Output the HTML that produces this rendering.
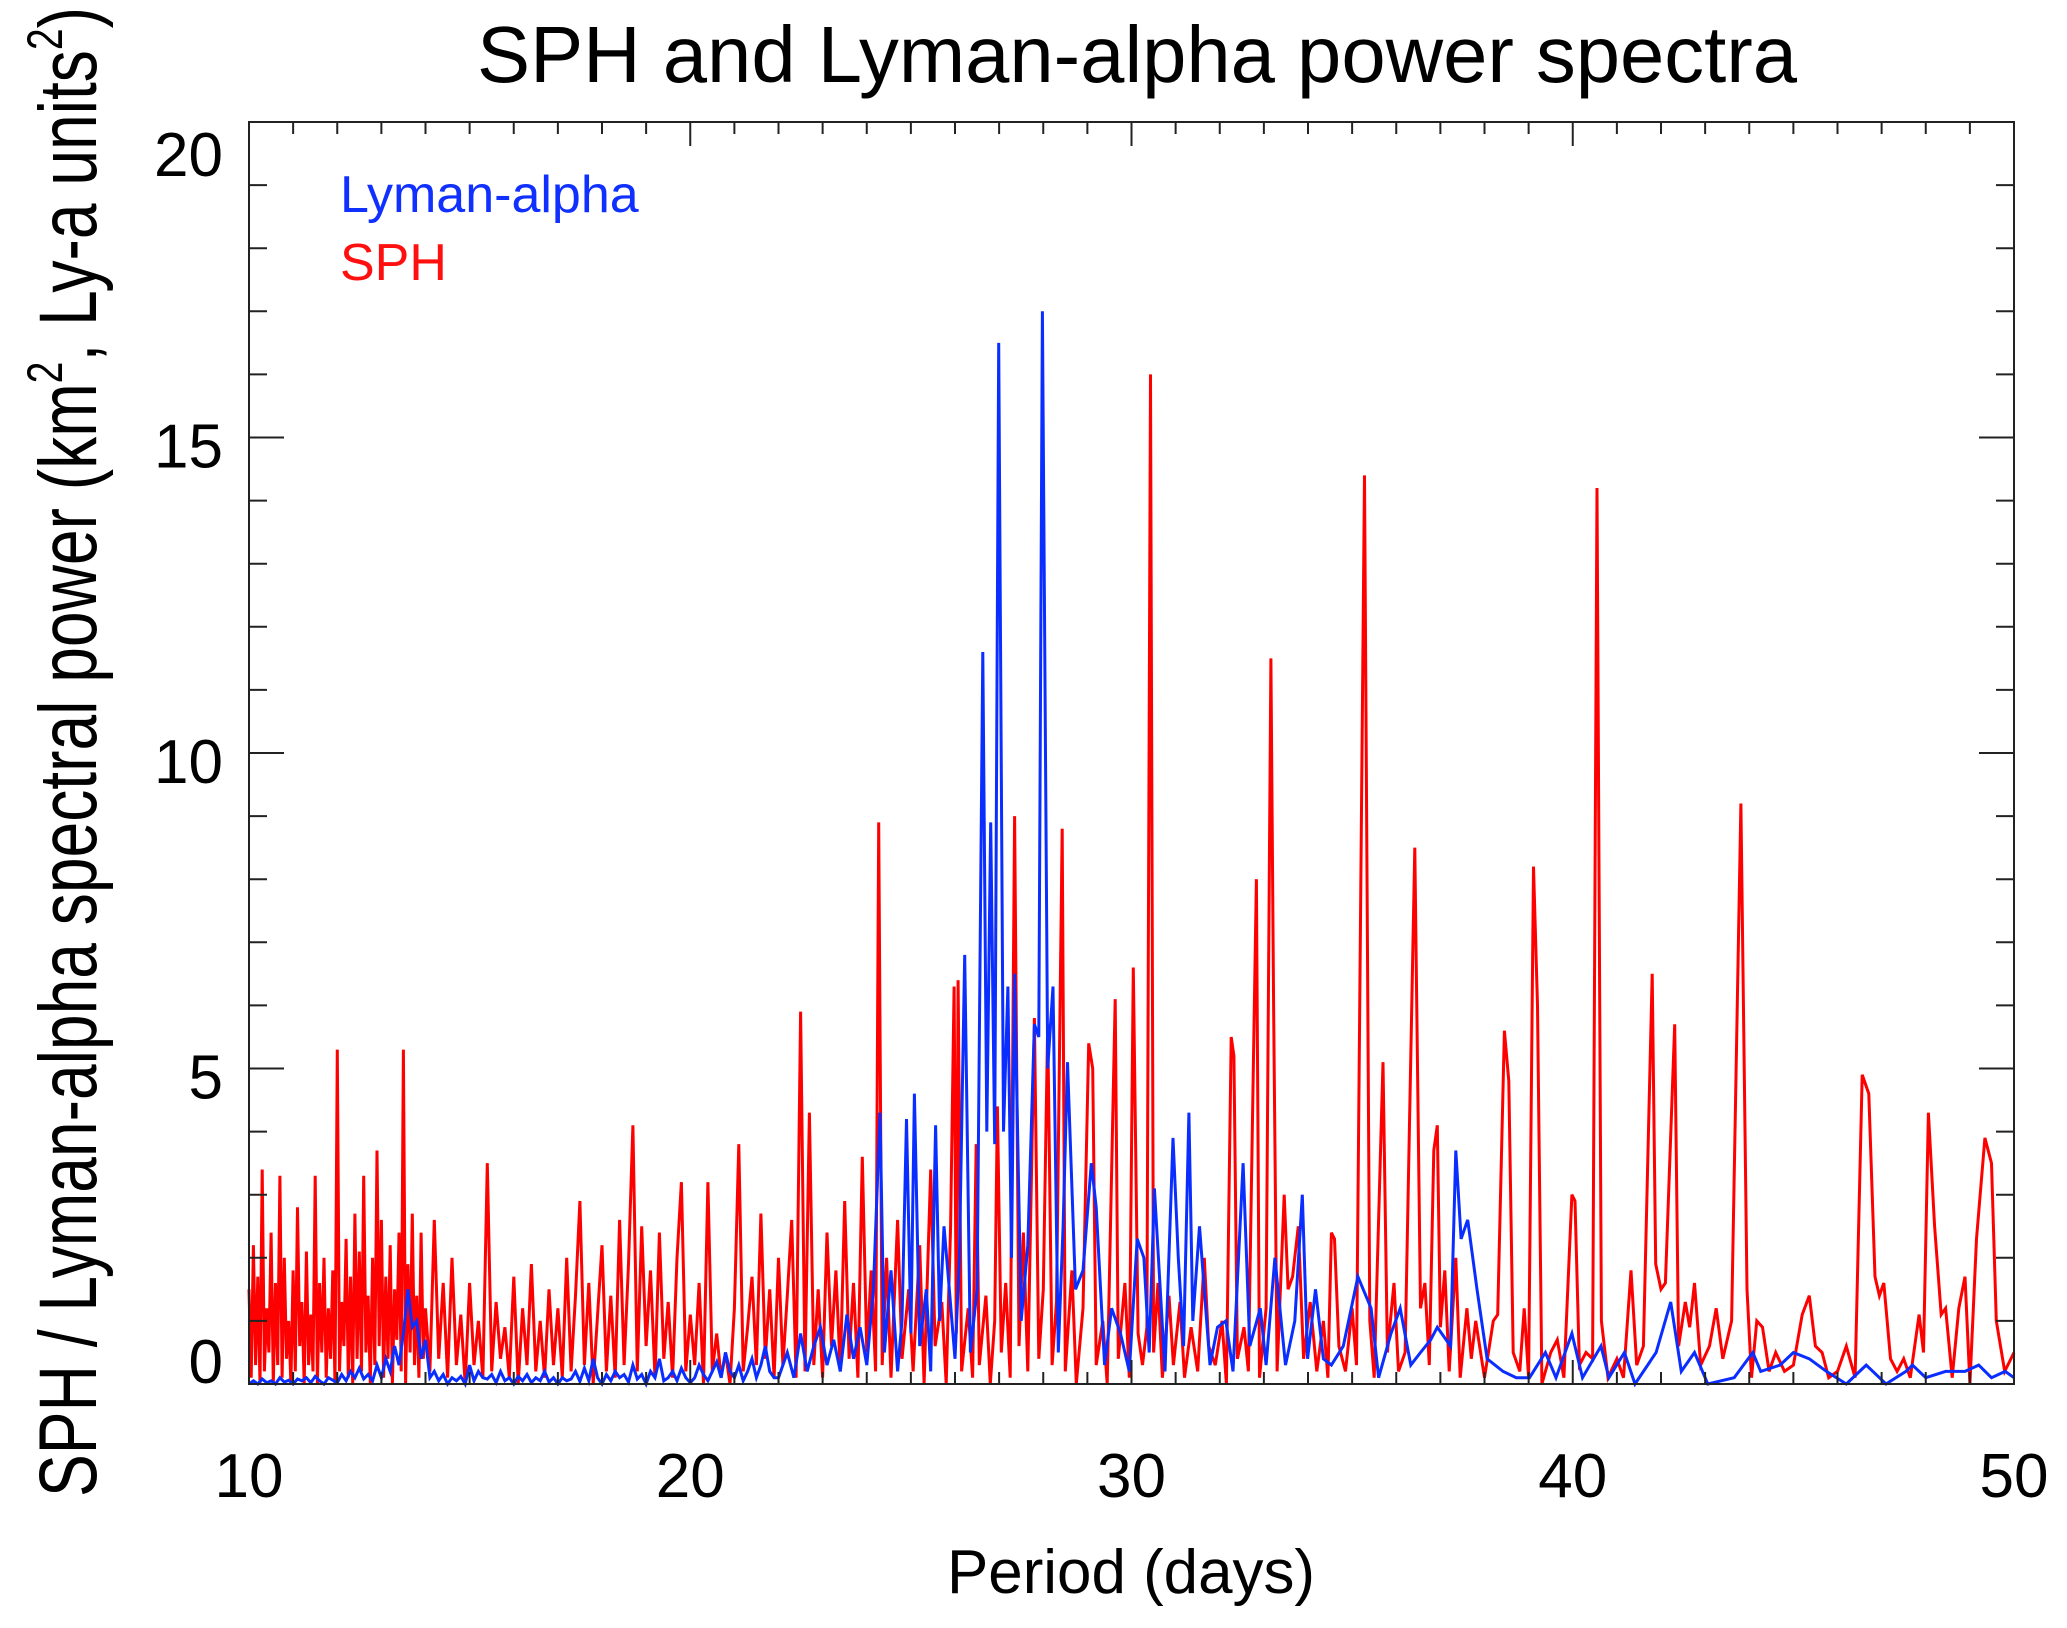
<!DOCTYPE html>
<html><head><meta charset="utf-8"><style>
html,body{margin:0;padding:0;background:#fff;}
svg{display:block;font-family:"Liberation Sans",Arial,sans-serif;}
</style></head><body>
<svg id="chart" width="2067" height="1628" viewBox="0 0 2067 1628" xmlns="http://www.w3.org/2000/svg">
<rect width="2067" height="1628" fill="#fff"/>
<text x="1137" y="82" font-size="80" text-anchor="middle" textLength="1320" lengthAdjust="spacingAndGlyphs" fill="#000">SPH and Lyman-alpha power spectra</text>
<text x="1131" y="1593" font-size="62" text-anchor="middle" textLength="368" lengthAdjust="spacingAndGlyphs" fill="#000">Period (days)</text>
<text transform="translate(96,1497) rotate(-90)" x="0" y="0" font-size="82" textLength="1490" lengthAdjust="spacingAndGlyphs" fill="#000">SPH / Lyman-alpha spectral power (km<tspan font-size="50" dy="-34">2</tspan><tspan dy="34">, Ly-a units</tspan><tspan font-size="50" dy="-34">2</tspan><tspan dy="34">)</tspan></text>
<text x="340" y="212" font-size="52" fill="#1030ff">Lyman-alpha</text>
<text x="340" y="280" font-size="52" fill="#ff1010">SPH</text>
<g id="series"></g>
<g id="axes"></g>
</svg>
<script>
const xTickLabels = [10, 20, 30, 40, 50];
const yTickLabels = [0, 5, 10, 15, 20];
// SPH dense segment: periods 10.00..13.95 step 0.05
const sphDenseA = [1.5,0.1,2.2,0.3,1.7,0.0,3.4,0.2,1.2,0.5,2.4,0.0,1.6,0.3,3.3,0.1,2.0,0.4,1.0,0.0,
1.8,0.2,2.8,0.6,1.3,0.0,2.1,0.3,1.1,0.2,3.3,0.0,1.6,0.5,2.0,0.1,1.2,0.4,1.8,0.0,
5.3,0.2,1.3,0.6,2.3,0.1,1.7,0.0,2.7,0.4,2.1,0.2,3.3,0.5,1.4,0.0,2.0,0.3,3.7,0.6,
2.6,0.1,1.7,0.4,2.2,0.0,1.5,0.7,2.4,0.2,5.3,0.0,1.9,0.5,2.7,0.3,1.4,0.1,2.4,0.4];
// SPH segment: periods 14.0..23.9 step 0.1
const sphDenseB = [1.2,0.2,2.6,0.4,1.6,0.1,2.0,0.3,1.1,0.0,
1.6,0.3,1.0,0.1,3.5,0.2,1.3,0.4,0.9,0.1,
1.7,0.0,1.2,0.3,1.9,0.2,1.0,0.1,1.5,0.3,
1.2,0.1,2.0,0.2,1.4,2.9,0.3,1.6,0.0,1.1,
2.2,0.2,1.4,0.1,2.6,0.3,1.9,4.1,0.2,2.5,
0.6,1.8,0.1,2.4,0.4,1.3,0.1,2.0,3.2,0.2,
1.1,0.3,1.6,0.0,3.2,0.2,0.8,0.1,0.5,0.0,
1.2,3.8,0.2,0.9,1.7,0.3,2.7,0.4,1.5,0.1,
2.0,0.3,1.4,2.6,0.1,5.9,0.2,4.3,0.3,1.5,
0.1,2.4,0.6,1.8,0.2,2.9,0.4,1.6,0.1,3.6];
const sphSparse = [[24.0,0.5],[24.1,1.8],[24.2,0.2],[24.27,8.9],[24.35,0.3],[24.45,2.0],[24.55,0.1],[24.7,2.6],[24.8,0.4],[24.95,1.5],[25.05,0.2],[25.2,2.2],[25.3,0.0],[25.45,3.4],[25.55,0.6],[25.7,1.3],[25.8,0.0],[25.9,2.5],[25.98,6.3],[26.03,0.8],[26.07,6.4],[26.15,0.2],[26.3,1.2],[26.4,0.1],[26.48,3.8],[26.55,0.3],[26.7,1.4],[26.8,0.0],[26.9,1.0],[26.96,4.4],[27.05,0.5],[27.15,1.6],[27.25,0.1],[27.35,9.0],[27.45,0.6],[27.55,2.4],[27.65,0.2],[27.8,5.8],[27.9,0.4],[28.0,1.5],[28.1,5.7],[28.2,0.3],[28.3,1.3],[28.43,8.8],[28.5,0.2],[28.65,1.8],[28.75,0.0],[28.9,1.2],[29.03,5.4],[29.12,5.0],[29.2,0.3],[29.35,1.0],[29.45,0.0],[29.63,6.1],[29.7,0.4],[29.85,1.6],[29.95,0.1],[30.04,6.6],[30.15,0.8],[30.25,0.3],[30.35,0.9],[30.43,16.0],[30.5,0.5],[30.6,1.6],[30.7,0.1],[30.85,1.4],[30.95,0.3],[31.1,1.3],[31.2,0.1],[31.35,0.9],[31.5,0.2],[31.65,2.0],[31.75,0.6],[31.9,0.3],[32.05,1.0],[32.15,0.0],[32.26,5.5],[32.32,5.2],[32.4,0.4],[32.55,0.9],[32.65,0.2],[32.83,8.0],[32.9,0.1],[33.05,1.2],[33.16,11.5],[33.22,6.0],[33.3,0.2],[33.46,3.0],[33.55,1.5],[33.65,1.7],[33.78,2.5],[33.9,0.4],[34.05,1.3],[34.2,0.2],[34.35,1.0],[34.45,0.1],[34.53,2.4],[34.6,2.3],[34.7,0.6],[34.85,0.2],[35.0,1.2],[35.1,0.3],[35.28,14.4],[35.4,1.0],[35.5,0.1],[35.7,5.1],[35.8,0.5],[35.95,1.6],[36.05,0.2],[36.2,0.5],[36.42,8.5],[36.55,1.2],[36.65,1.6],[36.75,0.3],[36.85,3.7],[36.93,4.1],[37.0,0.9],[37.1,1.8],[37.2,0.2],[37.35,2.0],[37.45,0.1],[37.6,1.2],[37.7,0.4],[37.8,1.0],[38.0,0.1],[38.2,1.0],[38.3,1.1],[38.45,5.6],[38.55,4.8],[38.65,0.5],[38.8,0.2],[38.9,1.2],[39.0,0.1],[39.11,8.2],[39.2,6.0],[39.3,0.0],[39.5,0.5],[39.65,0.7],[39.8,0.1],[39.98,3.0],[40.05,2.9],[40.15,0.3],[40.3,0.5],[40.45,0.4],[40.55,14.2],[40.65,1.0],[40.8,0.1],[41.0,0.4],[41.15,0.1],[41.32,1.8],[41.45,0.3],[41.6,0.6],[41.8,6.5],[41.88,1.9],[42.0,1.5],[42.1,1.6],[42.31,5.7],[42.4,0.6],[42.55,1.3],[42.65,0.9],[42.76,1.6],[42.9,0.3],[43.1,0.6],[43.25,1.2],[43.4,0.4],[43.6,1.0],[43.81,9.2],[43.95,1.5],[44.05,0.1],[44.17,1.0],[44.3,0.9],[44.45,0.2],[44.6,0.5],[44.8,0.2],[45.0,0.3],[45.2,1.1],[45.36,1.4],[45.5,0.6],[45.65,0.5],[45.8,0.1],[46.0,0.2],[46.2,0.6],[46.4,0.1],[46.56,4.9],[46.71,4.6],[46.85,1.7],[46.95,1.4],[47.05,1.6],[47.2,0.4],[47.35,0.2],[47.5,0.4],[47.65,0.1],[47.85,1.1],[47.95,0.5],[48.06,4.3],[48.2,2.5],[48.35,1.1],[48.45,1.2],[48.6,0.1],[48.75,1.2],[48.89,1.7],[49.0,0.0],[49.15,2.3],[49.34,3.9],[49.49,3.5],[49.6,1.0],[49.79,0.2],[50.0,0.5]];
// Lyman-alpha low segment: periods 10.0..21.9 step 0.1
const lyaDense = [0.0,0.05,0.0,0.08,0.02,0.05,0.0,0.1,0.03,0.06,
0.0,0.08,0.05,0.1,0.02,0.12,0.05,0.0,0.1,0.06,
0.02,0.15,0.05,0.2,0.1,0.25,0.08,0.15,0.05,0.3,
0.1,0.4,0.2,0.6,0.3,0.8,1.5,0.9,1.0,0.4,
0.7,0.1,0.2,0.05,0.15,0.0,0.1,0.05,0.12,0.0,
0.3,0.05,0.2,0.1,0.08,0.15,0.02,0.2,0.05,0.1,
0.0,0.12,0.05,0.15,0.02,0.1,0.05,0.2,0.03,0.1,
0.0,0.1,0.05,0.08,0.2,0.04,0.25,0.05,0.4,0.1,
0.0,0.15,0.05,0.2,0.1,0.15,0.03,0.3,0.08,0.15,
0.0,0.2,0.1,0.4,0.05,0.1,0.2,0.05,0.25,0.1,
0.02,0.1,0.3,0.15,0.05,0.2,0.35,0.1,0.5,0.2,
0.1,0.3,0.05,0.2,0.4,0.1,0.3,0.6,0.2,0.1];
const lyaSparse = [[22.0,0.1],[22.2,0.5],[22.35,0.1],[22.5,0.8],[22.65,0.2],[22.8,0.6],[22.95,0.9],[23.1,0.3],[23.25,0.7],[23.4,0.2],[23.55,1.1],[23.7,0.4],[23.85,0.9],[24.0,0.3],[24.15,1.5],[24.3,4.3],[24.4,0.5],[24.55,1.8],[24.7,0.2],[24.8,1.0],[24.9,4.2],[25.0,0.8],[25.08,4.6],[25.2,0.6],[25.35,1.5],[25.45,0.2],[25.56,4.1],[25.65,1.0],[25.75,2.5],[25.86,1.6],[26.0,0.4],[26.1,2.0],[26.22,6.8],[26.35,0.5],[26.5,1.5],[26.63,11.6],[26.72,4.0],[26.81,8.9],[26.9,3.8],[26.99,16.5],[27.1,4.0],[27.2,6.3],[27.28,2.0],[27.35,6.5],[27.5,1.0],[27.65,2.2],[27.8,5.7],[27.9,5.5],[27.98,17.0],[28.1,5.0],[28.22,6.3],[28.34,0.5],[28.45,2.5],[28.55,5.1],[28.73,1.5],[28.9,1.8],[29.09,3.5],[29.2,2.8],[29.39,0.3],[29.55,1.2],[29.75,0.8],[29.95,0.2],[30.13,2.3],[30.28,2.0],[30.4,0.5],[30.52,3.1],[30.76,0.2],[30.94,3.9],[31.06,2.0],[31.18,0.6],[31.3,4.3],[31.39,1.0],[31.54,2.5],[31.78,0.3],[31.95,0.9],[32.14,1.0],[32.3,0.2],[32.53,3.5],[32.68,0.6],[32.92,1.2],[33.05,0.3],[33.25,2.0],[33.49,0.3],[33.7,1.0],[33.87,3.0],[33.99,0.4],[34.17,1.5],[34.35,0.4],[34.53,0.3],[34.8,0.6],[35.13,1.7],[35.43,1.2],[35.6,0.1],[35.88,0.8],[36.09,1.2],[36.33,0.3],[36.55,0.5],[36.78,0.7],[36.93,0.9],[37.23,0.6],[37.35,3.7],[37.47,2.3],[37.62,2.6],[37.83,1.5],[38.06,0.4],[38.42,0.2],[38.72,0.1],[39.02,0.1],[39.38,0.5],[39.62,0.1],[39.98,0.8],[40.22,0.1],[40.64,0.6],[40.82,0.1],[41.17,0.5],[41.41,0.0],[41.89,0.5],[42.22,1.3],[42.46,0.2],[42.76,0.5],[43.06,0.0],[43.66,0.1],[44.08,0.5],[44.26,0.2],[44.7,0.3],[45.0,0.5],[45.36,0.4],[45.75,0.2],[46.2,0.0],[46.65,0.3],[47.1,0.0],[47.55,0.2],[47.7,0.3],[48.0,0.1],[48.45,0.2],[48.89,0.2],[49.2,0.3],[49.49,0.1],[49.8,0.2],[50.0,0.1]];

const L = 249, R = 2014, T = 122, B = 1384;
const X0 = 10, X1 = 50, Y0 = 0, Y1 = 20;
function xs(p){ return L + (p - X0) / (X1 - X0) * (R - L); }
function ys(v){ return B - (v - Y0) / (Y1 - Y0) * (B - 122); }
const NS = 'http://www.w3.org/2000/svg';
const series = document.getElementById('series');
const axes = document.getElementById('axes');

function buildPts(dense, start, step, sparse){
  const pts = [];
  dense.forEach((v, i) => pts.push([start + i * step, v]));
  sparse.forEach(d => pts.push(d));
  return pts;
}
const sphA = buildPts(sphDenseA, 10, 0.05, []);
const sphPts = sphA.concat(buildPts(sphDenseB, 14, 0.1, sphSparse));
const lyaPts = buildPts(lyaDense, 10, 0.1, lyaSparse);

function drawLine(pts, color, name){
  const d = pts.map((p, i) => (i ? 'L' : 'M') + xs(p[0]).toFixed(1) + ',' + ys(p[1]).toFixed(1)).join('');
  const path = document.createElementNS(NS, 'path');
  path.setAttribute('d', d);
  path.setAttribute('fill', 'none');
  path.setAttribute('stroke', color);
  path.setAttribute('stroke-width', '3');
  path.setAttribute('stroke-linejoin', 'miter');
  
  
  series.appendChild(path);
}
drawLine(sphPts, '#ff0000', 'sph-series-line');
drawLine(lyaPts, '#0a2eff', 'lyman-alpha-series-line');

function line(x1, y1, x2, y2, name){
  const l = document.createElementNS(NS, 'line');
  l.setAttribute('x1', x1); l.setAttribute('y1', y1);
  l.setAttribute('x2', x2); l.setAttribute('y2', y2);
  l.setAttribute('stroke', '#222'); l.setAttribute('stroke-width', '2');
  
  
  axes.appendChild(l);
}
const frame = document.createElementNS(NS, 'rect');
frame.setAttribute('x', L); frame.setAttribute('y', T);
frame.setAttribute('width', R - L); frame.setAttribute('height', B - T);
frame.setAttribute('fill', 'none'); frame.setAttribute('stroke', '#222'); frame.setAttribute('stroke-width', '2');


axes.appendChild(frame);

for (let p = X0; p <= X1; p++) {
  const major = (p % 10 === 0);
  const len = major ? 24 : 12;
  const x = xs(p);
  line(x, B, x, B - len, 'x-tick');
  line(x, T, x, T + len, 'x-tick-top');
}
for (let v = Y0; v <= Y1; v++) {
  const major = (v % 5 === 0);
  const len = major ? 35 : 18;
  const y = ys(v);
  line(L, y, L + len, y, 'y-tick');
  line(R, y, R - len, y, 'y-tick-right');
}
xTickLabels.forEach(t => {
  const tx = document.createElementNS(NS, 'text');
  tx.setAttribute('x', xs(t)); tx.setAttribute('y', 1497);
  tx.setAttribute('font-size', '62'); tx.setAttribute('text-anchor', 'middle');
  tx.textContent = t;
  
  
  axes.appendChild(tx);
});
yTickLabels.forEach(t => {
  const tx = document.createElementNS(NS, 'text');
  let by = ys(t) + 30;
  if (t === Y0) by = B - 1;
  if (t === Y1) by = 176;
  tx.setAttribute('x', 223); tx.setAttribute('y', by);
  tx.setAttribute('font-size', '62'); tx.setAttribute('text-anchor', 'end');
  tx.textContent = t;
  
  
  axes.appendChild(tx);
});
</script>
</body></html>
